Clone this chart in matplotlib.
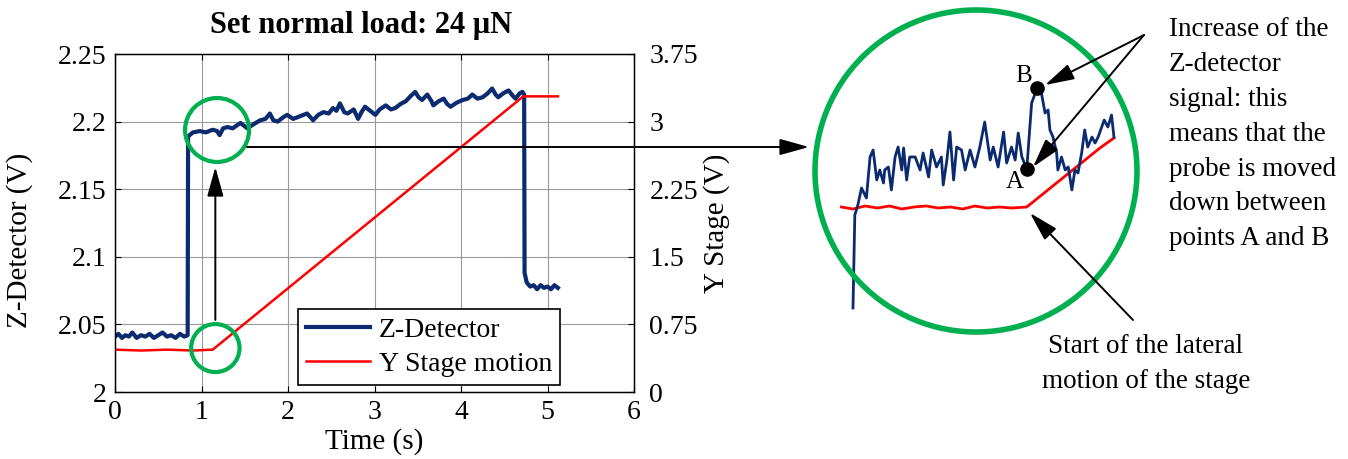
import matplotlib
matplotlib.use('Agg')
import matplotlib.pyplot as plt
from matplotlib.patches import Ellipse, Circle, FancyArrowPatch

plt.rcParams['font.family'] = ['Liberation Serif', 'DejaVu Serif']

# Z-detector signal (left axis, V)
z_time = [0.00, 0.04, 0.08, 0.12, 0.16, 0.20, 0.25, 0.30, 0.35, 0.40, 0.45, 0.50,
          0.55, 0.60, 0.65, 0.70, 0.75, 0.80, 0.84,
          0.845, 0.90, 0.98, 1.05, 1.13, 1.18, 1.21, 1.25, 1.30, 1.36, 1.45, 1.53,
          1.60, 1.68, 1.74, 1.79, 1.83, 1.88, 1.94, 1.99, 2.06, 2.14, 2.22, 2.29,
          2.35, 2.41, 2.47, 2.52, 2.56, 2.60, 2.65, 2.69, 2.76, 2.81, 2.85, 2.89,
          2.95, 3.01, 3.06, 3.13, 3.19, 3.24, 3.30, 3.36, 3.42, 3.47, 3.51, 3.55,
          3.61, 3.66, 3.68, 3.74, 3.80, 3.84, 3.88, 3.95, 4.02, 4.08, 4.13, 4.19,
          4.25, 4.31, 4.36, 4.40, 4.43, 4.49, 4.55, 4.60, 4.63, 4.68, 4.71, 4.73,
          4.735, 4.76, 4.80, 4.84, 4.88, 4.92, 4.96, 5.00, 5.04, 5.08, 5.12]
z_volt = [2.041, 2.043, 2.040, 2.042, 2.041, 2.044, 2.040, 2.042, 2.041, 2.043, 2.040, 2.042,
          2.044, 2.041, 2.042, 2.040, 2.043, 2.041, 2.042,
          2.189, 2.192, 2.193, 2.192, 2.194, 2.193, 2.190, 2.195, 2.196, 2.195, 2.199, 2.195,
          2.198, 2.201, 2.202, 2.206, 2.201, 2.200, 2.203, 2.205, 2.202, 2.204, 2.206, 2.201,
          2.205, 2.207, 2.206, 2.210, 2.208, 2.2135, 2.207, 2.206, 2.209, 2.202, 2.207, 2.211,
          2.208, 2.205, 2.209, 2.212, 2.209, 2.210, 2.213, 2.215, 2.219, 2.222, 2.218, 2.216,
          2.220, 2.215, 2.212, 2.215, 2.217, 2.213, 2.211, 2.214, 2.216, 2.217, 2.220, 2.217,
          2.218, 2.221, 2.2245, 2.220, 2.218, 2.221, 2.223, 2.219, 2.217, 2.221, 2.222, 2.220,
          2.088, 2.081, 2.078, 2.079, 2.076, 2.079, 2.077, 2.078, 2.076, 2.079, 2.077]

# Y stage motion (right axis, V)
y_time = [0.0, 0.3, 0.6, 0.9, 1.13, 4.72, 5.12]
y_volt = [0.47, 0.46, 0.47, 0.46, 0.47, 3.28, 3.28]

x_ticks = [0, 1, 2, 3, 4, 5, 6]
left_ticks = [2.0, 2.05, 2.1, 2.15, 2.2, 2.25]
left_labels = ['2', '2.05', '2.1', '2.15', '2.2', '2.25']
right_ticks = [0, 0.75, 1.5, 2.25, 3, 3.75]
right_labels = ['0', '0.75', '1.5', '2.25', '3', '3.75']

# magnified view in the big circle (ms after the jump, mV)
zoom_time = [0, 3, 8, 14, 22, 28, 33, 39, 44, 50, 52, 58, 63, 69, 74, 80, 83, 88, 93,
             102, 110, 115, 124, 129, 137, 145, 148, 154, 159, 165, 170, 178, 184, 192,
             200, 208, 216, 225, 230, 238, 247, 252, 260, 266, 271, 277, 285, 293, 302,
             309, 315, 320, 323, 328, 334, 336, 342, 348, 353, 359, 364, 369, 375, 380,
             385, 392, 397, 402, 412, 418, 424, 428]
zoom_z = [1.2, 10.5, 11.5, 13.2, 12.2, 16.3, 17.0, 14.0, 15.0, 13.7, 15.0, 15.3, 13.0,
          16.3, 17.3, 15.0, 17.2, 14.0, 16.3, 16.3, 15.0, 16.7, 14.3, 17.0, 15.3, 16.3,
          13.5, 16.0, 18.8, 14.0, 17.3, 17.0, 15.0, 17.0, 15.3, 17.3, 19.8, 16.0, 17.3,
          15.3, 18.8, 15.7, 17.3, 16.0, 18.7, 16.3, 15.1, 21.7, 23.2, 22.7, 20.7, 21.0,
          19.0, 18.3, 16.7, 15.0, 16.3, 15.0, 15.3, 13.0, 15.0, 14.7, 16.7, 19.0, 17.3,
          18.3, 17.7, 18.3, 20.0, 19.3, 20.5, 18.3]
zoom_stage_time = [-19, 0, 20, 40, 60, 80, 100, 120, 140, 160, 180, 200, 220, 240, 260,
                   285, 405, 428]
zoom_stage = [11.3, 11.1, 11.4, 11.2, 11.4, 11.1, 11.3, 11.4, 11.2, 11.3, 11.1, 11.4,
              11.2, 11.3, 11.2, 11.3, 17.2, 18.2]
ab_time = [285, 302]
ab_val = [15.1, 23.2]
ab_label = ['A', 'B']

blue = '#0b2a6f'
red = '#ff0000'
green = '#00b050'

W, H = 1348, 459
fig = plt.figure(figsize=(W / 100, H / 100), dpi=100)

ax = fig.add_axes([115 / W, (H - 392) / H, 519 / W, 338 / H])
ax.plot(z_time, z_volt, color=blue, lw=3.0, solid_joinstyle='round')
ax.set_xlim(0, 6)
ax.set_ylim(2.0, 2.25)
ax.set_xticks(x_ticks)
ax.set_yticks(left_ticks)
ax.set_yticklabels(left_labels)
ax.grid(True, color='#9a9a9a', lw=0.8)
ax.tick_params(direction='in', length=4, labelsize=20, top=True, pad=6)
ax.set_xlabel('Time (s)', fontsize=21, labelpad=2)
ax.set_ylabel('Z-Detector (V)', fontsize=21)
ax.yaxis.set_label_coords(-0.158, 0.45)
ax.set_title('Set normal load: 24 μN', fontsize=22, fontweight='bold', pad=15,
             x=0.474)

ax2 = ax.twinx()
ax2.plot(y_time, y_volt, color=red, lw=1.8)
ax2.set_ylim(0, 3.75)
ax2.set_yticks(right_ticks)
ax2.set_yticklabels(right_labels)
ax2.tick_params(direction='in', length=4, labelsize=20, pad=11)
ax2.set_ylabel('Y Stage (V)', fontsize=21, labelpad=4)

h1 = ax.get_lines()[0]
h2 = ax2.get_lines()[0]
leg = ax2.legend([h1, h2], ['Z-Detector', 'Y Stage motion'], loc='lower left',
                 bbox_to_anchor=(0.3526, 0.0207), borderaxespad=0, fontsize=20,
                 handlelength=2.3, handletextpad=0.3, labelspacing=0.3,
                 borderpad=0.3, fancybox=False, framealpha=1, edgecolor='black')
leg.get_frame().set_linewidth(1.2)

for s in ax.spines.values():
    s.set_linewidth(1.0)

# magnified inset
ins = fig.add_axes([800 / W, (H - 340) / H, 350 / W, 340 / H])
ins.plot(zoom_stage_time, zoom_stage, color=red, lw=2.0)
ins.plot(zoom_time, zoom_z, color=blue, lw=2.0)
ins.plot(ab_time, ab_val, 'o', color='black', ms=9.5)
ins.annotate(ab_label[0], (ab_time[0], ab_val[0]), xytext=(-9, -9),
             textcoords='offset points', ha='center', va='center', fontsize=18)
ins.annotate(ab_label[1], (ab_time[1], ab_val[1]), xytext=(-10, 9),
             textcoords='offset points', ha='center', va='center', fontsize=18)
ins.set_xlim(-86.9, 487.1)
ins.set_ylim(-2, 32)
ins.axis('off')

# overlay for circles, arrows and notes (figure pixels)
ov = fig.add_axes([0, 0, 1, 1], zorder=10)
ov.set_xlim(0, W)
ov.set_ylim(H, 0)
ov.axis('off')
ov.patch.set_alpha(0)

ov.add_patch(Ellipse((1.18, 2.1938), 0.74, 0.0473, transform=ax.transData,
                     fill=False, ec=green, lw=3))
ov.add_patch(Ellipse((1.16, 2.0325), 0.56, 0.0355, transform=ax.transData,
                     fill=False, ec=green, lw=3))
ov.add_patch(Circle((976, 171), 161, fill=False, ec=green, lw=4))

head = '-|>,head_length=1.8,head_width=0.5'


def arrow(p0, p1, tr=None):
    kw = dict(arrowstyle=head, mutation_scale=10, color='black', lw=1.4,
              shrinkA=0, shrinkB=0)
    if tr is not None:
        kw['transform'] = tr
    ov.add_patch(FancyArrowPatch(p0, p1, **kw))


arrow((1.16, 2.0533), (1.16, 2.1664), ax.transData)
arrow((247, 147), (809, 147))
arrow((1144, 35), (1045, 85))
arrow((1144, 35), (1033, 167))
arrow((1133, 320), (1030, 213))

ov.text(1169, 17, 'Increase of the\nZ-detector\nsignal: this\nmeans that the\n'
        'probe is moved\ndown between\npoints A and B',
        ha='left', va='top', fontsize=19.5, linespacing=1.52)
ov.text(1146, 334, 'Start of the lateral\nmotion of the stage',
        ha='center', va='top', fontsize=19.5, linespacing=1.5)

fig.savefig('out.png', dpi=100)
